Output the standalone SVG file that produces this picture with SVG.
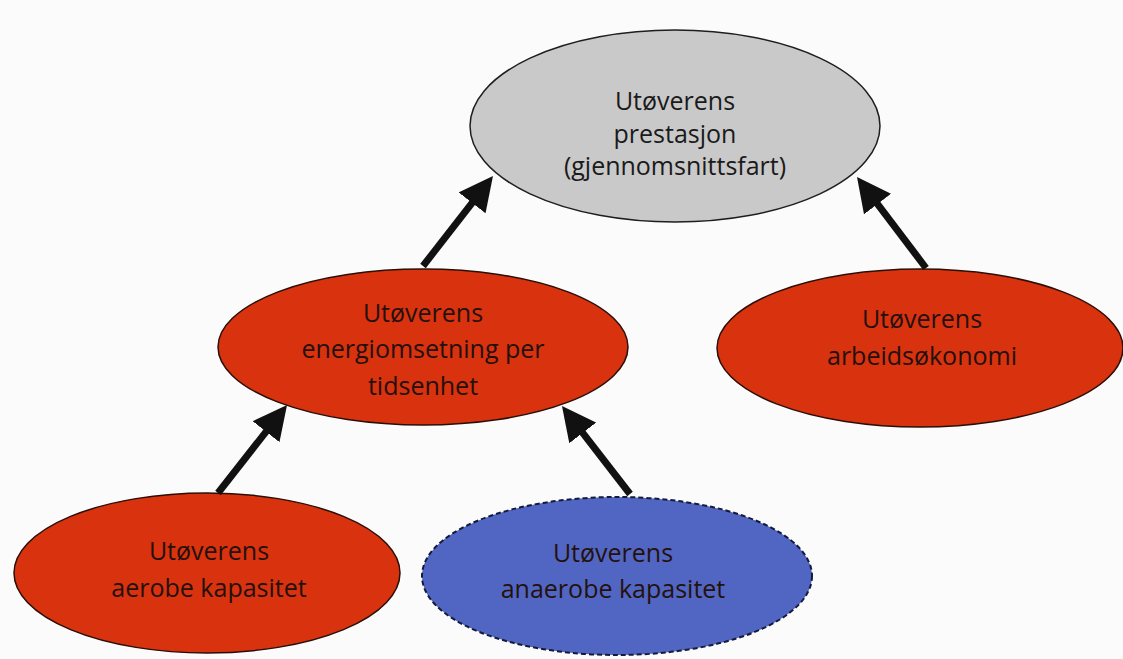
<svg xmlns="http://www.w3.org/2000/svg" width="1123" height="659" viewBox="0 0 1123 659">
  <style>
    .lbl { font-family: "Open Sans", "Noto Sans", sans-serif; font-size: 25px; fill: #24110e; text-anchor: middle; }
    .top { fill: #1a1a1a; }
    .red { fill: #d8320e; stroke: #2a0f08; stroke-width: 1.5; }
    .gray { fill: #c9c9c9; stroke: #1e1e1e; stroke-width: 1.5; }
    .blue { fill: #5066c2; stroke: #141a3a; stroke-width: 2; stroke-dasharray: 5 3; }
    .conn { stroke: #111; stroke-width: 7; fill: none; marker-end: url(#head); }
  </style>
  <defs>
    <marker id="head" markerUnits="userSpaceOnUse" viewBox="0 0 34 34" markerWidth="34" markerHeight="34" refX="14" refY="17" orient="auto">
      <path d="M0,0 L34,17 L0,34 Z" fill="#111"/>
    </marker>
  </defs>
  <rect width="1123" height="659" fill="#fbfbfb"/>

  <g id="node-prestasjon">
    <ellipse class="gray" cx="675" cy="126" rx="205" ry="96"/>
    <text class="lbl top" x="675" y="110">Utøverens</text>
    <text class="lbl top" x="675" y="143">prestasjon</text>
    <text class="lbl top" x="675" y="175">(gjennomsnittsfart)</text>
  </g>

  <g id="node-energiomsetning">
    <ellipse class="red" cx="423" cy="347" rx="205" ry="78"/>
    <text class="lbl" x="423" y="322">Utøverens</text>
    <text class="lbl" x="423" y="358">energiomsetning per</text>
    <text class="lbl" x="423" y="395">tidsenhet</text>
  </g>

  <g id="node-arbeidsokonomi">
    <ellipse class="red" cx="920" cy="348" rx="203" ry="79"/>
    <text class="lbl" x="922" y="328">Utøverens</text>
    <text class="lbl" x="922" y="365">arbeidsøkonomi</text>
  </g>

  <g id="node-aerob">
    <ellipse class="red" cx="207" cy="573" rx="193" ry="80"/>
    <text class="lbl" x="209" y="560">Utøverens</text>
    <text class="lbl" x="209" y="597">aerobe kapasitet</text>
  </g>

  <g id="node-anaerob">
    <ellipse class="blue" cx="617" cy="576" rx="195" ry="79"/>
    <text class="lbl" x="613" y="562">Utøverens</text>
    <text class="lbl" x="613" y="598">anaerobe kapasitet</text>
  </g>

  <g id="connectors">
    <path class="conn" d="M423,266 L480.7,191.8"/>
    <path class="conn" d="M926,268 L869.1,192.9"/>
    <path class="conn" d="M218,493 L274.7,420.7"/>
    <path class="conn" d="M630,494 L574.2,421.8"/>
  </g>
</svg>
